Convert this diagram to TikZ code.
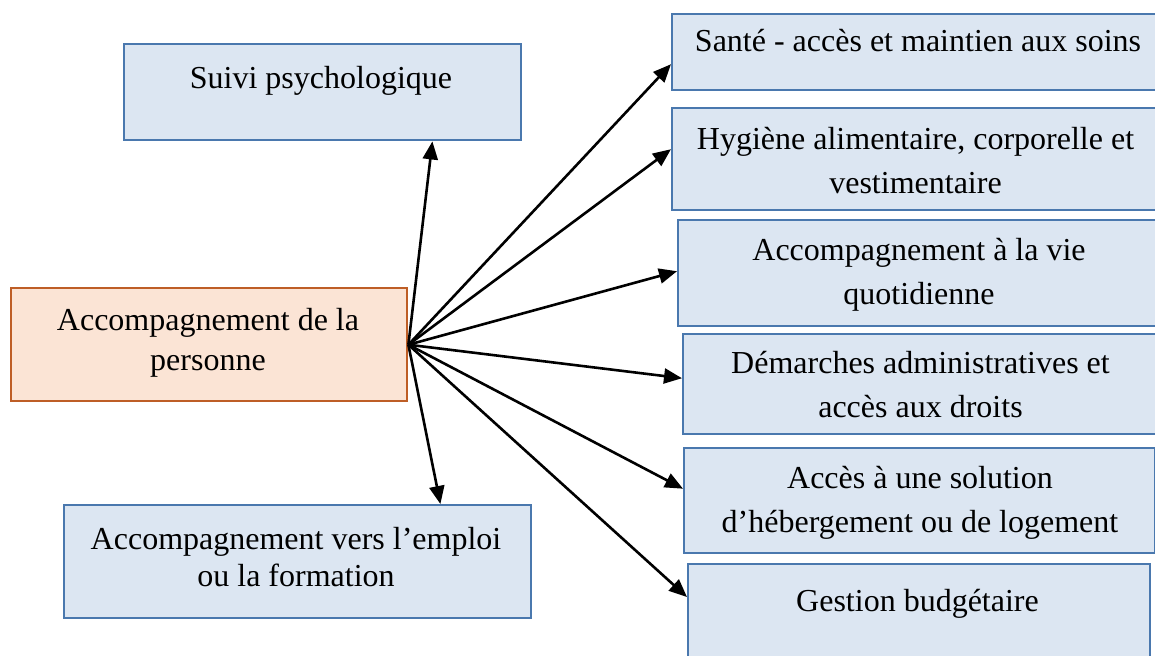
\documentclass[tikz,border=0pt]{standalone}
\usepackage{fontspec}
\setmainfont{Liberation Serif}
\usetikzlibrary{arrows.meta}
\definecolor{boxblue}{HTML}{DCE6F2}
\definecolor{boxedge}{HTML}{4A78AE}
\definecolor{hubfill}{HTML}{FBE4D5}
\definecolor{hubedge}{HTML}{BE5E26}

\begin{document}
\begin{tikzpicture}[x=0.5pt, y=-0.5pt,
		box/.style={draw=boxedge, fill=boxblue, line width=1.2pt, anchor=north west, inner sep=0pt},
		hubbox/.style={box, draw=hubedge, fill=hubfill},
		txt/.style={align=center, inner sep=0pt, font=\fontsize{16}{22}\selectfont},
		link/.style={-{Triangle[length=9pt, width=7.5pt]}, line width=1.3pt}]
	\clip (0,0) rectangle (1155,655);
	\node[box, minimum width=198.5pt, minimum height=48pt] (suivi) at (123,43) {};
	\node[hubbox, minimum width=198pt, minimum height=56.5pt] (hub) at (10,287) {};
	\node[box, minimum width=233.5pt, minimum height=56.5pt] (emploi) at (63,504) {};
	\node[box, minimum width=244.5pt, minimum height=38pt] (sante) at (671,13) {};
	\node[box, minimum width=244.5pt, minimum height=51pt] (hyg) at (671,107) {};
	\node[box, minimum width=241.5pt, minimum height=53pt] (vie) at (677,219) {};
	\node[box, minimum width=239pt, minimum height=50pt] (dem) at (682,333) {};
	\node[box, minimum width=235.5pt, minimum height=52.5pt] (acc) at (683,447) {};
	\node[box, minimum width=231pt, minimum height=51pt] (gest) at (687,563) {};

	\node[txt] (suivi-txt) at (321,81) {Suivi psychologique};
	\node[txt, font=\fontsize{16}{20}\selectfont] (hub-txt) at (208,342.5) {Accompagnement de la\\personne};
	\node[txt, font=\fontsize{16}{18.5}\selectfont] (emploi-txt) at (296,557.5) {Accompagnement vers l’emploi\\ou la formation};
	\node[txt] (sante-txt) at (918,41) {Santé - accès et maintien aux soins};
	\node[txt] (hyg-txt) at (915.5,161) {Hygiène alimentaire, corporelle et\\vestimentaire};
	\node[txt] (vie-txt) at (919,274.5) {Accompagnement à la vie\\quotidienne};
	\node[txt] (dem-txt) at (920.5,385) {Démarches administratives et\\accès aux droits};
	\node[txt] (acc-txt) at (920,502.5) {Accès à une solution\\d’hébergement ou de logement};
	\node[txt] (gest-txt) at (917.5,604) {Gestion budgétaire};

	\draw[link] (hub.east) -- ([xshift=-45pt]suivi.south east);
	\draw[link] (hub.east) -- ([xshift=-46pt]emploi.north east);
	\foreach \n/\s in {sante/-6pt, hyg/5pt, vie/1pt, dem/3pt, acc/6pt}
		\draw[link] (hub.east) -- ([yshift=\s]\n.west);
	\draw[link] (hub.east) -- ([yshift=-17pt]gest.north west);
\end{tikzpicture}
\end{document}
